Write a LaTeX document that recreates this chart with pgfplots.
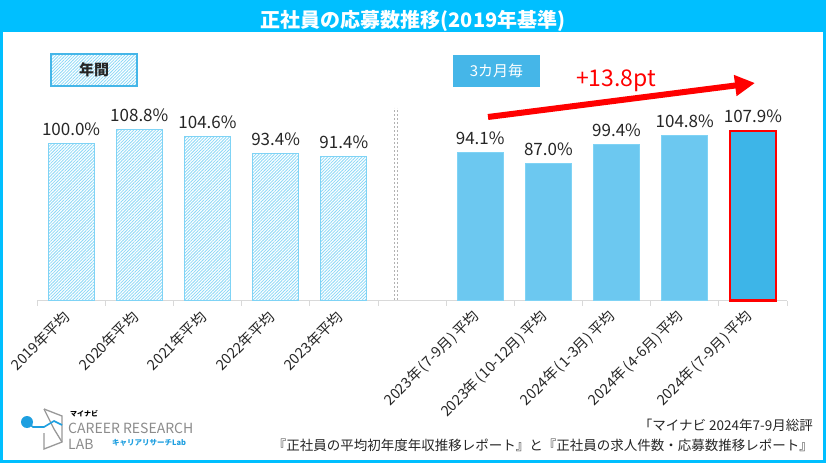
\documentclass[border=0pt]{standalone}
\usepackage{pgfplots}
\pgfplotsset{compat=1.18}
\usetikzlibrary{patterns,patterns.meta,arrows.meta}
\usepackage{fontspec}
\setmainfont{Noto Sans CJK JP}
\definecolor{titlecyan}{HTML}{00BFFF}
\definecolor{hatchblue}{HTML}{8AD8F7}
\definecolor{edgeblue}{HTML}{7FD3F5}
\definecolor{qblue}{HTML}{6CC8F0}
\definecolor{lastblue}{HTML}{3DB5E8}
\definecolor{boxblue}{HTML}{45B6E8}
\definecolor{txt}{HTML}{262626}
\definecolor{logoblue}{HTML}{1E9FE0}
\newcommand{\lp}{\kern1.5pt(\kern1pt}
\newcommand{\rp}{\kern1pt)\kern1.5pt}
\begin{document}
\begin{tikzpicture}[x=1pt,y=1pt]
\path[use as bounding box] (0,0) rectangle (826,463);
\fill[white] (0,0) rectangle (826,463);
\fill[titlecyan] (0,431) rectangle (826,463);
\draw[titlecyan, line width=3pt] (1.5,1.5) rectangle (824.5,461.5);
\node[white, font=\fontsize{20}{20}\selectfont\bfseries] at (413,442) {正社員の応募数推移(2019年基準)};

\begin{axis}[at={(37pt,162.3pt)}, anchor=south west, scale only axis,
  width=750pt, height=204.6pt, xmin=-0.5, xmax=10.5, ymin=0, ymax=130,
  clip=false, axis x line*=bottom, axis y line=none,
  axis line style={draw=black!15, line width=0.8pt},
  xtick={0,1,2,3,4,6,7,8,9,10},
  xticklabels={2019年平均,2020年平均,2021年平均,2022年平均,2023年平均,
    2023年\lp 7-9月\rp 平均,2023年\lp 10-12月\rp 平均,2024年\lp 1-3月\rp 平均,2024年\lp 4-6月\rp 平均,2024年\lp 7-9月\rp 平均},
  minor xtick={-0.5,0.5,...,10.5},
  major tick length=0pt, minor tick length=5pt, tick align=outside,
  minor tick style={draw=black!15, line width=0.8pt},
  xticklabel style={rotate=45, anchor=east, font=\fontsize{14.5}{14.5}\selectfont, text=txt, xshift=-8.6pt, yshift=-6.6pt},
  ybar, bar width=46pt,
  /pgf/number format/assume math mode=true,
  nodes near coords={\pgfmathprintnumber[fixed,fixed zerofill,precision=1]{\pgfplotspointmeta}\%},
  nodes near coords style={font=\fontsize{17}{17}\selectfont, text=txt, anchor=south, yshift=4pt},
]
\addplot[bar shift=0pt, draw=edgeblue, line width=1pt, pattern={Lines[angle=45, distance=2.2pt, line width=0.8pt]}, pattern color=hatchblue]
  coordinates {(0,100.0) (1,108.8) (2,104.6) (3,93.4) (4,91.4)};
\addplot[bar shift=0pt, draw=edgeblue, line width=1pt, fill=qblue]
  coordinates {(6,94.1) (7,87.0) (8,99.4) (9,104.8)};
\addplot[bar shift=0pt, draw=red, line width=2.5pt, fill=lastblue]
  coordinates {(10,107.9)};
\end{axis}

% separator
\draw[black!30, dash pattern=on 2pt off 2pt, line width=0.6pt] (394,163) -- (394,355);
\draw[black!30, dash pattern=on 2pt off 2pt, line width=0.6pt] (397.5,163) -- (397.5,355);

% group boxes
\draw[boxblue, line width=2pt, pattern={Lines[angle=45, distance=2.2pt, line width=0.8pt]}, pattern color=hatchblue] (51,377) rectangle (137,409);
\node[font=\fontsize{15}{15}\selectfont\bfseries, text=txt] at (94,393) {年間};
\fill[boxblue] (453,376) rectangle (540,408);
\node[font=\fontsize{15}{15}\selectfont, text=white] at (496.5,392) {3カ月毎};

% arrow
\draw[red, line width=6pt, -{Triangle[length=20pt,width=20pt]}] (488,346) -- (755,380);
\node[red, font=\fontsize{23}{23}\selectfont] at (616,382) {+13.8pt};

% source
\node[anchor=east, font=\fontsize{13.5}{13.5}\selectfont, text=txt, inner sep=0pt] at (813,38) {「マイナビ 2024年7-9月総評};
\node[anchor=east, font=\fontsize{13.5}{13.5}\selectfont, text=txt, inner sep=0pt] at (813,18) {『正社員の平均初年度年収推移レポート』と『正社員の求人件数・応募数推移レポート』};

% logo
\draw[black!40, line width=1.3pt] (44,54) -- (62,47) -- (62,21) -- (44,14) -- (44,30);
\draw[black!40, line width=1.3pt] (44,54) -- (54,34) -- (62,21);
\draw[logoblue, line width=1.6pt] (27,41) -- (33,36) -- (44,36) -- (54,42) -- (62,38);
\fill[logoblue] (27,41) circle (6);
\node[anchor=west, font=\fontsize{7}{7}\selectfont\bfseries, inner sep=0pt] at (70,49) {マイナビ};
\node[anchor=west, font=\fontsize{14}{14}\selectfont, text=black!45, inner sep=0pt] at (68,35) {CAREER RESEARCH};
\node[anchor=west, font=\fontsize{14}{14}\selectfont, text=black!45, inner sep=0pt] at (68,19) {LAB};
\node[anchor=west, font=\fontsize{7.5}{7.5}\selectfont\bfseries, text=logoblue, inner sep=0pt] at (112,20) {キャリアリサーチLab};
\end{tikzpicture}
\end{document}
